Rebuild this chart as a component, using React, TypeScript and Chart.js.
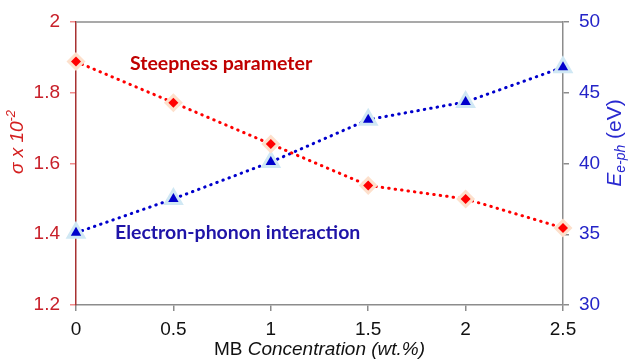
import React, { useEffect, useRef } from "react";
import { Chart, registerables } from "chart.js";

Chart.register(...registerables);

const xValues = [0, 0.5, 1, 1.5, 2, 2.5];
const steepness = [1.888, 1.772, 1.655, 1.538, 1.5, 1.418];
const electronPhonon = [35.1, 37.5, 40.1, 43.1, 44.35, 46.8];
const xTickLabels = ["0", "0.5", "1", "1.5", "2", "2.5"];
const leftTickLabels = ["1.2", "1.4", "1.6", "1.8", "2"];
const rightTickLabels = ["30", "35", "40", "45", "50"];

const RED = "#ff0000";
const RED_DARK = "#c00000";
const RED_TICK = "#c8202a";
const BLUE = "#0000cc";
const BLUE_TICK = "#2424c8";
const GREY = "#8c8c8c";
const SANS = "'Liberation Sans', Arial, sans-serif";

const pts = (ys: number[]) => xValues.map((x, i) => ({ x, y: ys[i] }));

const textPlugin = {
  id: "customText",
  afterDraw(chart: any) {
    const ctx = chart.ctx as CanvasRenderingContext2D;
    const a = chart.chartArea;
    ctx.save();
    // top border
    ctx.strokeStyle = GREY;
    ctx.lineWidth = 1.5;
    ctx.beginPath();
    ctx.moveTo(a.left, a.top);
    ctx.lineTo(a.right, a.top);
    ctx.stroke();

    // annotations
    ctx.textBaseline = "middle";
    ctx.textAlign = "left";
    ctx.font = "bold 19.5px Lato, 'Open Sans', sans-serif";
    ctx.fillStyle = RED_DARK;
    ctx.fillText("Steepness parameter", 130, 64);
    ctx.fillStyle = "#1f14a8";
    ctx.fillText("Electron-phonon interaction", 115, 233);

    // x title
    const f1 = "19px " + SANS;
    const f2 = "italic 19px " + SANS;
    ctx.fillStyle = "#111";
    ctx.font = f1;
    const w1 = ctx.measureText("MB ").width;
    ctx.font = f2;
    const w2 = ctx.measureText("Concentration (wt.%)").width;
    const cx = (a.left + a.right) / 2;
    let sx = cx - (w1 + w2) / 2;
    ctx.font = f1;
    ctx.fillText("MB ", sx, 350);
    ctx.font = f2;
    ctx.fillText("Concentration (wt.%)", sx + w1, 350);

    // left title
    ctx.save();
    ctx.translate(18, 142);
    ctx.rotate(-Math.PI / 2);
    ctx.fillStyle = "#d42020";
    const lf = "italic 19px " + SANS;
    const sf = "italic 13px " + SANS;
    ctx.font = lf;
    const lw1 = ctx.measureText("\u03c3 x 10").width;
    ctx.font = sf;
    const lw2 = ctx.measureText("-2").width;
    let lx = -(lw1 + lw2) / 2;
    ctx.font = lf;
    ctx.fillText("\u03c3 x 10", lx, 0);
    ctx.font = sf;
    ctx.fillText("-2", lx + lw1, -7);
    ctx.restore();

    // right title
    ctx.save();
    ctx.translate(615, 143);
    ctx.rotate(-Math.PI / 2);
    ctx.fillStyle = "#2a2ad0";
    const ef = "italic 21px " + SANS;
    const esf = "italic 14px " + SANS;
    const rf = "21px " + SANS;
    ctx.font = ef;
    const ew = ctx.measureText("E").width;
    ctx.font = esf;
    const esw = ctx.measureText("e-ph").width;
    ctx.font = rf;
    const rw = ctx.measureText(" (eV)").width;
    let rx = -(ew + esw + rw) / 2;
    ctx.font = ef;
    ctx.fillText("E", rx, 0);
    ctx.font = esf;
    ctx.fillText("e-ph", rx + ew, 6);
    ctx.font = rf;
    ctx.fillText(" (eV)", rx + ew + esw, 0);
    ctx.restore();

    ctx.restore();
  },
};

export default function App() {
  const ref = useRef<HTMLCanvasElement | null>(null);
  useEffect(() => {
    if (!ref.current) return;
    const chart = new Chart(ref.current, {
      type: "scatter",
      data: {
        datasets: [
          {
            data: pts(steepness),
            yAxisID: "y",
            showLine: true,
            borderColor: RED,
            borderWidth: 3,
            borderDash: [0.5, 6],
            borderCapStyle: "round",
            pointRadius: 0,
            clip: false,
            order: 5,
          } as any,
          {
            data: pts(electronPhonon),
            yAxisID: "y1",
            showLine: true,
            borderColor: BLUE,
            borderWidth: 3,
            borderDash: [0.5, 6],
            borderCapStyle: "round",
            pointRadius: 0,
            clip: false,
            order: 5,
          } as any,
          {
            data: pts(steepness),
            yAxisID: "y",
            pointStyle: "rectRot",
            pointRadius: 9.5,
            backgroundColor: "#fde0cc",
            borderWidth: 0,
            clip: false,
            order: 4,
          } as any,
          {
            data: pts(electronPhonon),
            yAxisID: "y1",
            pointStyle: "triangle",
            pointRadius: 12,
            backgroundColor: "#d0e8f4",
            borderWidth: 0,
            clip: false,
            order: 4,
          } as any,
          {
            data: pts(steepness),
            yAxisID: "y",
            pointStyle: "rectRot",
            pointRadius: 5,
            backgroundColor: RED,
            borderWidth: 0,
            clip: false,
            order: 1,
          } as any,
          {
            data: pts(electronPhonon),
            yAxisID: "y1",
            pointStyle: "triangle",
            pointRadius: 6,
            backgroundColor: BLUE,
            borderWidth: 0,
            clip: false,
            order: 1,
          } as any,
        ],
      },
      options: {
        responsive: false,
        animation: false,
        layout: { padding: { top: 22, left: 0, right: 0, bottom: 0 } },
        plugins: { legend: { display: false }, tooltip: { enabled: false } },
        scales: {
          x: {
            type: "linear",
            min: 0,
            max: 2.5,
            afterFit: (s: any) => { s.height = 57; },
            afterBuildTicks: (s: any) => {
              s.ticks = xValues.map((v) => ({ value: v }));
            },
            ticks: {
              callback: (_v: any, i: number) => xTickLabels[i],
              color: "#111",
              font: { family: SANS, size: 19 },
              padding: 7,
              maxRotation: 0,
            },
            grid: { drawOnChartArea: false, drawTicks: true, tickLength: 6, color: GREY, lineWidth: 1.5 },
            border: { color: GREY, width: 1.5 },
          },
          y: {
            type: "linear",
            position: "left",
            min: 1.2,
            max: 2,
            afterFit: (s: any) => { s.width = 76; },
            afterBuildTicks: (s: any) => {
              s.ticks = leftTickLabels.map((t) => ({ value: parseFloat(t) }));
            },
            ticks: {
              callback: (_v: any, i: number) => leftTickLabels[i],
              color: RED_TICK,
              font: { family: SANS, size: 19 },
              padding: 10,
            },
            grid: { drawOnChartArea: false, drawTicks: true, tickLength: 6, color: "#f08c8c", lineWidth: 1.5 },
            border: { color: "#a83232", width: 1.5 },
          },
          y1: {
            type: "linear",
            position: "right",
            min: 30,
            max: 50,
            afterFit: (s: any) => { s.width = 65; },
            afterBuildTicks: (s: any) => {
              s.ticks = rightTickLabels.map((t) => ({ value: parseFloat(t) }));
            },
            ticks: {
              callback: (_v: any, i: number) => rightTickLabels[i],
              color: BLUE_TICK,
              font: { family: SANS, size: 19 },
              padding: 10,
            },
            grid: { drawOnChartArea: false, drawTicks: true, tickLength: 6, color: GREY, lineWidth: 1.5 },
            border: { color: GREY, width: 1.5 },
          },
        },
      } as any,
      plugins: [textPlugin],
    });
    return () => chart.destroy();
  }, []);
  return (
    <div style={{ position: "fixed", left: 0, top: 0, width: 628, height: 362, background: "#fff" }}>
      <canvas ref={ref} width={628} height={362} />
    </div>
  );
}
